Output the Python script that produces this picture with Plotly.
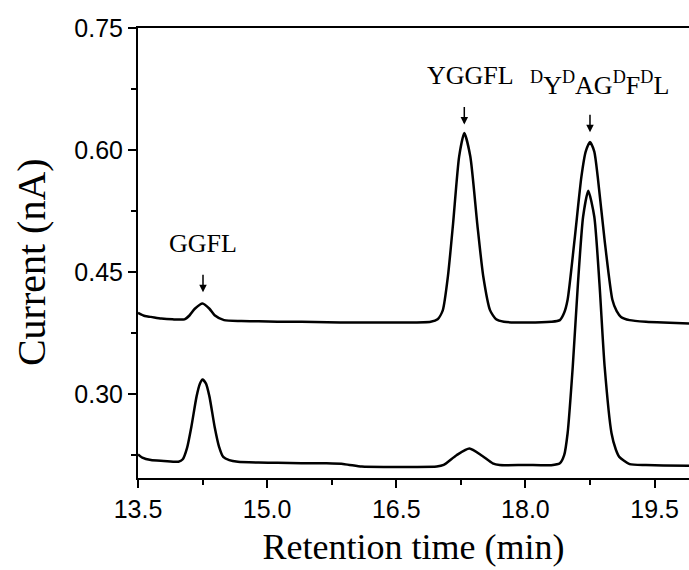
import plotly.graph_objects as go

# Upper chromatogram (standard mixture)
upper_t = [13.50, 13.58, 13.65, 13.77, 13.90, 14.04, 14.10, 14.16, 14.25, 14.33, 14.39, 14.50,
           14.70, 14.90, 15.12, 15.40, 15.70, 16.00, 16.30, 16.60, 16.90, 16.98, 17.04, 17.10,
           17.16, 17.23, 17.29, 17.36, 17.44, 17.51, 17.59, 17.66, 17.75, 18.00, 18.30, 18.40,
           18.45, 18.49, 18.57, 18.65, 18.70, 18.75, 18.80, 18.84, 18.92, 19.01, 19.06, 19.11,
           19.21, 19.40, 19.60, 19.90]
upper_i = [0.400, 0.396, 0.395, 0.393, 0.392, 0.392, 0.397, 0.405, 0.4115, 0.405, 0.397, 0.391,
           0.390, 0.3895, 0.389, 0.389, 0.3885, 0.388, 0.388, 0.388, 0.389, 0.392, 0.403, 0.445,
           0.510, 0.592, 0.621, 0.592, 0.510, 0.445, 0.403, 0.392, 0.389, 0.388, 0.389, 0.391,
           0.400, 0.416, 0.489, 0.567, 0.598, 0.610, 0.598, 0.567, 0.489, 0.416, 0.402, 0.395,
           0.391, 0.389, 0.388, 0.387]

# Lower chromatogram
lower_t = [13.50, 13.55, 13.65, 13.80, 13.97, 14.02, 14.07, 14.12, 14.18, 14.22, 14.25, 14.29,
           14.33, 14.39, 14.44, 14.49, 14.56, 14.66, 14.90, 15.12, 15.40, 15.69, 15.90, 16.10,
           16.40, 16.70, 16.97, 17.05, 17.20, 17.35, 17.50, 17.62, 17.70, 18.00, 18.30, 18.40,
           18.45, 18.49, 18.55, 18.61, 18.67, 18.73, 18.80, 18.86, 18.92, 19.00, 19.05, 19.09,
           19.21, 19.40, 19.60, 19.90]
lower_i = [0.226, 0.222, 0.219, 0.218, 0.217, 0.220, 0.234, 0.260, 0.297, 0.313, 0.318, 0.313,
           0.297, 0.260, 0.236, 0.223, 0.219, 0.217, 0.216, 0.2156, 0.215, 0.2150, 0.214, 0.211,
           0.2105, 0.2105, 0.211, 0.213, 0.225, 0.2333, 0.224, 0.215, 0.213, 0.213, 0.2127, 0.215,
           0.225, 0.252, 0.334, 0.436, 0.518, 0.550, 0.518, 0.436, 0.334, 0.252, 0.232, 0.223,
           0.214, 0.213, 0.2125, 0.212]

# Peak labels (text, peak time, arrow tip current)
label_text = ["GGFL", "YGGFL", "<sup>D</sup>Y<sup>D</sup>AG<sup>D</sup>F<sup>D</sup>L"]
label_t = [14.255, 17.29, 18.75]
label_tip = [0.4254, 0.6313, 0.6220]
label_xshift = [0, 6, 10]

x_ticks = [13.5, 15.0, 16.5, 18.0, 19.5]
y_ticks = [0.30, 0.45, 0.60, 0.75]

fig = go.Figure()
for t, i in [(upper_t, upper_i), (lower_t, lower_i)]:
    fig.add_trace(go.Scatter(x=t, y=i, mode="lines",
                             line=dict(color="black", width=2.5, shape="spline", smoothing=0.6),
                             showlegend=False, hoverinfo="skip"))

serif = "Liberation Serif, Times New Roman, serif"
sans = "Liberation Sans, Arial, sans-serif"

for txt, t, tip, xs in zip(label_text, label_t, label_tip, label_xshift):
    fig.add_annotation(x=t, y=tip, xref="x", yref="y", text="", showarrow=True,
                       ax=0, ay=-19, arrowhead=2, arrowsize=1, arrowwidth=1.5,
                       arrowcolor="black")
    fig.add_annotation(x=t, y=tip, xref="x", yref="y", text=txt, showarrow=False,
                       yshift=49, xshift=xs, font=dict(family=serif, size=26, color="black"))

# y-axis title
fig.add_annotation(text="Current (nA)", xref="paper", yref="paper", x=-0.194, y=0.48,
                   textangle=-90, showarrow=False, xanchor="center", yanchor="middle",
                   font=dict(family=serif, size=40, color="black"))

fig.update_layout(
    width=689, height=570,
    margin=dict(l=138, r=0, t=28, b=92),
    paper_bgcolor="white", plot_bgcolor="white",
    xaxis=dict(range=[13.5, 19.9], tickvals=x_ticks, tickformat=".1f",
               ticks="outside", ticklen=8, tickwidth=2, tickcolor="black",
               minor=dict(dtick=0.75, tick0=13.5, ticks="outside", ticklen=5, tickwidth=2, tickcolor="black"),
               showline=True, linecolor="black", linewidth=2, mirror=True,
               showgrid=False, zeroline=False,
               tickfont=dict(family=sans, size=25, color="black"),
               title=dict(text="Retention time (min)", font=dict(family=serif, size=36, color="black"), standoff=12)),
    yaxis=dict(range=[0.197, 0.75], tickvals=y_ticks, tickformat=".2f",
               ticks="outside", ticklen=8, tickwidth=2, tickcolor="black",
               minor=dict(dtick=0.075, tick0=0.0, ticks="outside", ticklen=5, tickwidth=2, tickcolor="black"),
               showline=True, linecolor="black", linewidth=2, mirror=False,
               showgrid=False, zeroline=False,
               tickfont=dict(family=sans, size=25, color="black")),
)

fig.write_html("out.html")
